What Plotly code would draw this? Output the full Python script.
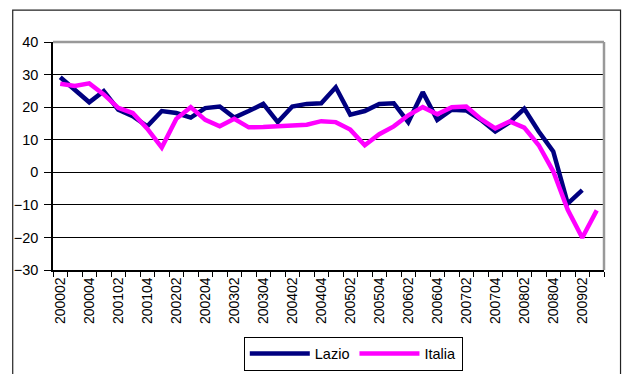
import plotly.graph_objects as go

# Quarterly periods, coded YYYYQQ, from 2000 Q2 to 2009 Q3
periods = [f"{y}{q:02d}" for y in range(2000, 2010) for q in range(1, 5)]
periods = periods[periods.index("200002"):periods.index("200903") + 1]

lazio = [29.2, 25.3, 21.5, 24.9, 19.2, 17.2, 14.1, 18.8, 18.2, 16.8,
         19.7, 20.2, 16.8, 18.8, 21.0, 15.4, 20.2, 21.0, 21.2, 26.1,
         17.7, 18.8, 21.0, 21.2, 15.4, 24.6, 16.1, 19.2, 19.0, 16.1,
         12.5, 15.4, 19.5, 12.5, 6.4, -9.6, -5.5, None]
italia = [27.2, 26.5, 27.3, 23.9, 19.8, 18.2, 13.4, 7.6, 16.4, 20.0,
          16.1, 14.1, 16.4, 13.8, 13.9, 14.2, 14.4, 14.6, 15.7, 15.4,
          13.1, 8.3, 11.7, 14.1, 17.5, 20.0, 17.8, 20.0, 20.2, 16.4,
          13.5, 15.6, 13.7, 8.3, 0.3, -11.5, -20.1, -11.7]

y_ticks = [40, 30, 20, 10, 0, -10, -20, -30]
# label every second quarter
x_ticktext = [p if i % 2 == 0 else "" for i, p in enumerate(periods)]

FONT = "Liberation Sans, Arial, sans-serif"

fig = go.Figure()
fig.add_trace(go.Scatter(x=periods, y=lazio, name="Lazio", mode="lines",
                         line=dict(color="#000080", width=4.5)))
fig.add_trace(go.Scatter(x=periods, y=italia, name="Italia", mode="lines",
                         line=dict(color="#FF00FF", width=4.5)))

fig.update_layout(
    width=622, height=374,
    margin=dict(l=53, r=18, t=42, b=104, autoexpand=False),
    paper_bgcolor="white", plot_bgcolor="white",
    font=dict(family=FONT, size=14, color="black"),
    showlegend=True,
    legend=dict(orientation="h", x=0.545, xanchor="center",
                yref="container", y=0.1, yanchor="top",
                bordercolor="black", borderwidth=1, font=dict(size=14.5),
                itemwidth=60, tracegroupgap=0),
    xaxis=dict(type="category", categoryorder="array", categoryarray=periods,
               tickmode="array", tickvals=periods, ticktext=x_ticktext,
               tickson="boundaries", ticks="outside", ticklen=5, tickcolor="black",
               tickangle=-90, showgrid=False, showline=True, linecolor="black",
               linewidth=1.5, zeroline=False, range=[-0.5, len(periods) - 0.5],
               tickfont=dict(size=14), automargin=False),
    yaxis=dict(range=[-30, 40], tickvals=y_ticks, ticks="outside", ticklen=7,
               tickcolor="black", showline=True, linecolor="black", linewidth=1.5,
               showgrid=True, gridcolor="black", gridwidth=1, zeroline=False,
               tickfont=dict(size=14.5), ticklabelstandoff=3, automargin=False),
)

# plot-area frame: grey top and right edges
fig.add_shape(type="line", xref="paper", yref="paper", x0=0, x1=1, y0=1, y1=1,
              line=dict(color="#999999", width=2.5), layer="above")
fig.add_shape(type="line", xref="paper", yref="paper", x0=1, x1=1, y0=0, y1=1,
              line=dict(color="#999999", width=2.5), layer="above")
# outer chart border
fig.add_shape(type="rect", xref="paper", yref="paper",
              x0=-0.0731, x1=1.030, y0=-0.5, y1=1.140,
              line=dict(color="#222222", width=1.2), fillcolor="rgba(0,0,0,0)")

fig.write_html("out.html")
